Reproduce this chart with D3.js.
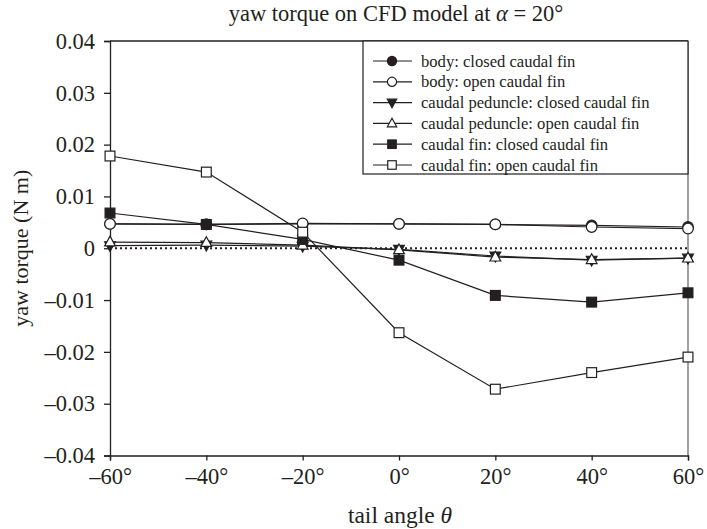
<!DOCTYPE html>
<html>
<head>
<meta charset="utf-8">
<script src="https://cdn.jsdelivr.net/npm/d3@7"></script>
<style>
  body { margin: 0; background: #fff; }
  svg text { font-family: "Liberation Serif", "Times New Roman", serif; fill: #231f20; }
</style>
</head>
<body>
<svg id="chart" width="707" height="529"></svg>
<script>
// tail angle (degrees)
const angles = [-60, -40, -20, 0, 20, 40, 60];

// yaw torque (N m)
const bodyClosed = [0.0047, 0.0046, 0.0047, 0.0047, 0.0046, 0.0044, 0.0041];
const bodyOpen = [0.0047, 0.0046, 0.0048, 0.0047, 0.0046, 0.0041, 0.0038];
const peduncleClosed = [0.0005, 0.0006, 0.0004, -0.0002, -0.0015, -0.0023, -0.0019];
const peduncleOpen = [0.0012, 0.0011, 0.0006, -0.0003, -0.0017, -0.0022, -0.0019];
const finClosed = [0.0068, 0.0046, 0.0017, -0.0023, -0.0091, -0.0104, -0.0086];
const finOpen = [0.0178, 0.0147, 0.0031, -0.0163, -0.0272, -0.0240, -0.0210];

const seriesNames = [
  "body: closed caudal fin",
  "body: open caudal fin",
  "caudal peduncle: closed caudal fin",
  "caudal peduncle: open caudal fin",
  "caudal fin: closed caudal fin",
  "caudal fin: open caudal fin"
];
const yTicks = [0.04, 0.03, 0.02, 0.01, 0, -0.01, -0.02, -0.03, -0.04];

const series = [
  { name: seriesNames[0], values: bodyClosed, shape: "circle", fill: "#231f20" },
  { name: seriesNames[1], values: bodyOpen, shape: "circle", fill: "#fff" },
  { name: seriesNames[2], values: peduncleClosed, shape: "down", fill: "#231f20" },
  { name: seriesNames[3], values: peduncleOpen, shape: "up", fill: "#fff" },
  { name: seriesNames[4], values: finClosed, shape: "square", fill: "#231f20" },
  { name: seriesNames[5], values: finOpen, shape: "square", fill: "#fff" }
];

const svg = d3.select("#chart");
const pLeft = 110, pRight = 688, pTop = 41, pBottom = 455.5;

const x = d3.scaleLinear().domain([-60, 60]).range([pLeft, pRight]);
const y = d3.scaleLinear().domain([-0.04, 0.04]).range([pBottom, pTop]);

const fmtY = d => d === 0 ? "0" : (d < 0 ? "\u2013" + d3.format(".2f")(-d) : d3.format(".2f")(d));
const fmtX = d => (d < 0 ? "\u2013" + (-d) : d) + "\u00b0";

// frame top + right
svg.append("line").attr("x1", pLeft).attr("x2", pRight).attr("y1", pTop).attr("y2", pTop)
  .attr("stroke", "#231f20").attr("stroke-width", 1.3);
svg.append("line").attr("x1", pRight).attr("x2", pRight).attr("y1", pTop).attr("y2", pBottom)
  .attr("stroke", "#6d6e71").attr("stroke-width", 1.3);

// axes
const yAxis = svg.append("g").attr("transform", `translate(${pLeft},0)`)
  .call(d3.axisLeft(y).tickValues(yTicks).tickFormat(fmtY).tickSize(6).tickPadding(9));
const xAxis = svg.append("g").attr("transform", `translate(0,${pBottom})`)
  .call(d3.axisBottom(x).tickValues(angles).tickFormat(fmtX).tickSize(5).tickPadding(8));

[yAxis, xAxis].forEach(a => {
  a.select(".domain").attr("stroke", "#231f20").attr("stroke-width", 1.3);
  a.selectAll(".tick line").attr("stroke", "#231f20").attr("stroke-width", 1.3);
  a.selectAll(".tick text").attr("font-size", 22.5)
    .style("font-family", '"Liberation Serif", serif').attr("fill", "#231f20");
});

// zero reference
svg.append("line").attr("x1", pLeft).attr("x2", pRight).attr("y1", y(0)).attr("y2", y(0))
  .attr("stroke", "#231f20").attr("stroke-width", 2.2).attr("stroke-dasharray", "2,3");

function marker(g, shape, fill, size) {
  const s = size;
  let m;
  if (shape === "circle") {
    m = g.append("circle").attr("r", s * 0.54);
  } else if (shape === "square") {
    m = g.append("rect").attr("x", -s / 2).attr("y", -s / 2).attr("width", s).attr("height", s);
  } else if (shape === "up") {
    m = g.append("path").attr("d", `M0,${-s * 0.6}L${s * 0.55},${s * 0.4}L${-s * 0.55},${s * 0.4}Z`);
  } else {
    m = g.append("path").attr("d", `M0,${s * 0.6}L${s * 0.55},${-s * 0.4}L${-s * 0.55},${-s * 0.4}Z`);
  }
  m.attr("fill", fill).attr("stroke", "#231f20").attr("stroke-width", 1.2);
}

const line = d3.line().x((d, i) => x(angles[i])).y(d => y(d));

series.forEach(s => {
  svg.append("path").datum(s.values).attr("d", line)
    .attr("fill", "none").attr("stroke", "#231f20").attr("stroke-width", 1.2);
});
series.forEach(s => {
  s.values.forEach((v, i) => {
    const g = svg.append("g").attr("transform", `translate(${x(angles[i])},${y(v)})`);
    marker(g, s.shape, s.fill, 9.8);
  });
});

// legend
const lg = svg.append("g");
lg.append("rect").attr("x", 363).attr("y", pTop).attr("width", pRight - 363).attr("height", 133)
  .attr("fill", "#fff").attr("stroke", "#231f20").attr("stroke-width", 1.2);
series.forEach((s, i) => {
  const yy = 61 + i * 20.8;
  lg.append("line").attr("x1", 373).attr("x2", 412).attr("y1", yy).attr("y2", yy)
    .attr("stroke", "#231f20").attr("stroke-width", 1.2);
  marker(lg.append("g").attr("transform", `translate(392,${yy})`), s.shape, s.fill, 8.5);
  lg.append("text").attr("x", 421).attr("y", yy).attr("dy", "0.34em")
    .attr("font-size", 16.6).text(s.name);
});

// titles
const title = svg.append("text").attr("x", 396).attr("y", 21).attr("text-anchor", "middle")
  .attr("font-size", 22.5);
title.append("tspan").text("yaw torque on CFD model at ");
title.append("tspan").attr("font-style", "italic").text("\u03b1");
title.append("tspan").text(" = 20\u00b0");

svg.append("text").attr("transform", `translate(28,${y(0)}) rotate(-90)`)
  .attr("text-anchor", "middle").attr("font-size", 22).text("yaw torque (N m)");

const xt = svg.append("text").attr("x", 400).attr("y", 523).attr("text-anchor", "middle")
  .attr("font-size", 23.5);
xt.append("tspan").text("tail angle ");
xt.append("tspan").attr("font-style", "italic").text("\u03b8");
</script>
</body>
</html>
